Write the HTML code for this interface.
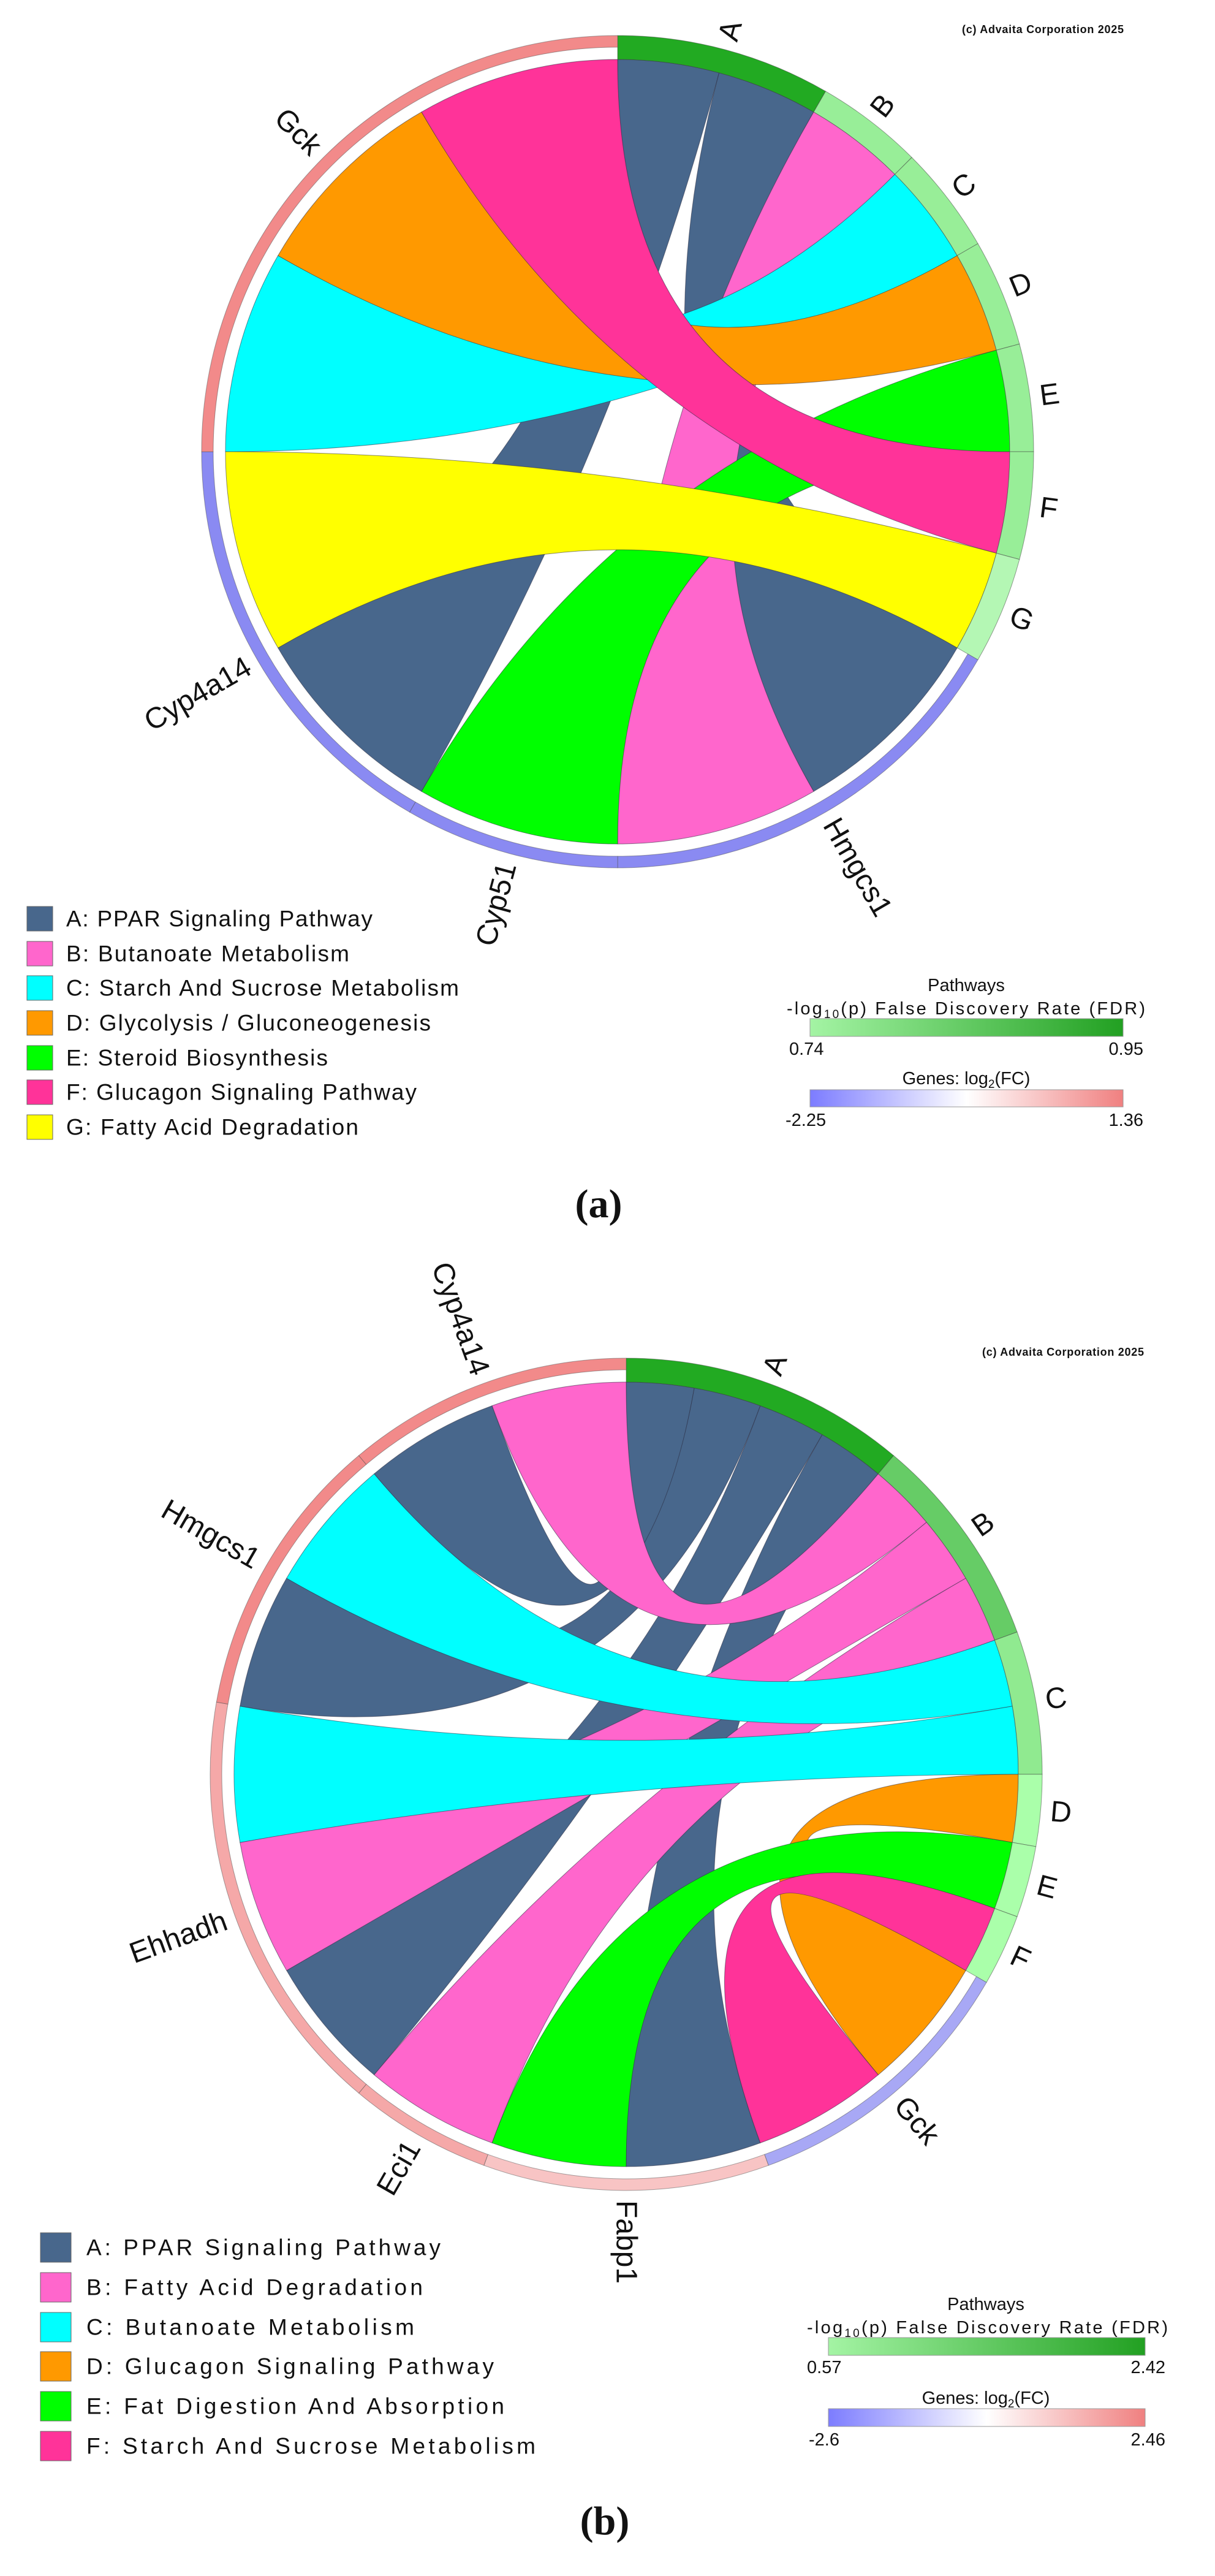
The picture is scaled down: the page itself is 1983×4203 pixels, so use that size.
<!DOCTYPE html>
<html><head><meta charset="utf-8"><style>
html,body{margin:0;padding:0;background:#fff;}
svg{display:block;}
text{font-family:"Liberation Sans",sans-serif;fill:#111;}
.lab{font-size:48px;dominant-baseline:central;}
.leg{font-size:37px;dominant-baseline:central;}
.cb{font-size:29px;}
.cap{font-family:"Liberation Serif",serif;font-weight:bold;font-size:66px;}
.copy{font-size:18px;font-weight:bold;}
</style></head><body>
<svg id="s" width="1983" height="4203" viewBox="0 0 1983 4203" xmlns="http://www.w3.org/2000/svg">
<defs>
<linearGradient id="gg" x1="0" x2="1" y1="0" y2="0"><stop offset="0" stop-color="#a4f4a4"/><stop offset="1" stop-color="#22a022"/></linearGradient>
<linearGradient id="bg" x1="0" x2="1" y1="0" y2="0"><stop offset="0" stop-color="#7c7cff"/><stop offset="0.5" stop-color="#ffffff"/><stop offset="1" stop-color="#f08080"/></linearGradient>
</defs>
<g id="chartA"></g>
<g id="chartB"></g>

<!-- Chart A labels -->
<g transform="translate(1008,737)">
<text class="lab" transform="rotate(45)" x="-695" text-anchor="end">Gck</text>
<text class="lab" transform="rotate(330)" x="-695" text-anchor="end">Cyp4a14</text>
<text class="lab" transform="rotate(285)" x="-695" text-anchor="end">Cyp51</text>
<text class="lab" transform="rotate(60)" x="695" text-anchor="start">Hmgcs1</text>
<text class="lab" transform="rotate(-75)" x="695">A</text>
<text class="lab" transform="rotate(-52.5)" x="695">B</text>
<text class="lab" transform="rotate(-37.5)" x="695">C</text>
<text class="lab" transform="rotate(-22.5)" x="695">D</text>
<text class="lab" transform="rotate(-7.5)" x="695">E</text>
<text class="lab" transform="rotate(7.5)" x="695">F</text>
<text class="lab" transform="rotate(22.5)" x="695">G</text>
</g>
<text class="copy" x="1570" y="54" textLength="264">(c) Advaita Corporation 2025</text>

<!-- Legend A -->
<g>
<rect x="44" y="1479" width="42" height="40" fill="#48678c" stroke="#666"/>
<rect x="44" y="1536" width="42" height="40" fill="#ff66cc" stroke="#666"/>
<rect x="44" y="1592" width="42" height="40" fill="#00ffff" stroke="#666"/>
<rect x="44" y="1649" width="42" height="40" fill="#ff9900" stroke="#666"/>
<rect x="44" y="1706" width="42" height="40" fill="#00ff00" stroke="#666"/>
<rect x="44" y="1762" width="42" height="40" fill="#ff3399" stroke="#666"/>
<rect x="44" y="1819" width="42" height="40" fill="#ffff00" stroke="#666"/>
<text class="leg" x="108" y="1499" textLength="500">A: PPAR Signaling Pathway</text>
<text class="leg" x="108" y="1556" textLength="462">B: Butanoate Metabolism</text>
<text class="leg" x="108" y="1612" textLength="641">C: Starch And Sucrose Metabolism</text>
<text class="leg" x="108" y="1669" textLength="595">D: Glycolysis / Gluconeogenesis</text>
<text class="leg" x="108" y="1726" textLength="427">E: Steroid Biosynthesis</text>
<text class="leg" x="108" y="1782" textLength="572">F: Glucagon Signaling Pathway</text>
<text class="leg" x="108" y="1839" textLength="477">G: Fatty Acid Degradation</text>
</g>
<!-- Colorbars A -->
<text class="cb" x="1577" y="1617" text-anchor="middle">Pathways</text>
<text class="cb" x="1284" y="1655" textLength="585">-log<tspan font-size="19" dy="6">10</tspan><tspan dy="-6">(p) False Discovery Rate (FDR)</tspan></text>
<rect x="1322" y="1662" width="511" height="29" fill="url(#gg)" stroke="#999" stroke-width="1"/>
<text class="cb" x="1288" y="1721">0.74</text>
<text class="cb" x="1866" y="1721" text-anchor="end">0.95</text>
<text class="cb" x="1577" y="1769" text-anchor="middle">Genes: log<tspan font-size="19" dy="6">2</tspan><tspan dy="-6">(FC)</tspan></text>
<rect x="1322" y="1778" width="511" height="28" fill="url(#bg)" stroke="#999" stroke-width="1"/>
<text class="cb" x="1282" y="1837">-2.25</text>
<text class="cb" x="1866" y="1837" text-anchor="end">1.36</text>
<text class="cap" x="977" y="1986" text-anchor="middle">(a)</text>

<!-- Chart B labels -->
<g transform="translate(1022,2895)">
<text class="lab" transform="rotate(70)" x="-695" text-anchor="end">Cyp4a14</text>
<text class="lab" transform="rotate(30)" x="-695" text-anchor="end">Hmgcs1</text>
<text class="lab" transform="rotate(-20)" x="-695" text-anchor="end">Ehhadh</text>
<text class="lab" transform="rotate(-60)" x="-695" text-anchor="end">Eci1</text>
<text class="lab" transform="rotate(90)" x="695">Fabp1</text>
<text class="lab" transform="rotate(50)" x="695">Gck</text>
<text class="lab" transform="rotate(-70)" x="695">A</text>
<text class="lab" transform="rotate(-35)" x="695">B</text>
<text class="lab" transform="rotate(-10)" x="695">C</text>
<text class="lab" transform="rotate(5)" x="695">D</text>
<text class="lab" transform="rotate(15)" x="695">E</text>
<text class="lab" transform="rotate(25)" x="695">F</text>
</g>
<text class="copy" x="1603" y="2212" textLength="264">(c) Advaita Corporation 2025</text>

<!-- Legend B -->
<g>
<rect x="66" y="3643" width="50" height="48" fill="#48678c" stroke="#666"/>
<rect x="66" y="3708" width="50" height="48" fill="#ff66cc" stroke="#666"/>
<rect x="66" y="3773" width="50" height="48" fill="#00ffff" stroke="#666"/>
<rect x="66" y="3837" width="50" height="48" fill="#ff9900" stroke="#666"/>
<rect x="66" y="3902" width="50" height="48" fill="#00ff00" stroke="#666"/>
<rect x="66" y="3967" width="50" height="48" fill="#ff3399" stroke="#666"/>
<text class="leg" x="141" y="3667" textLength="578">A: PPAR Signaling Pathway</text>
<text class="leg" x="141" y="3732" textLength="549">B: Fatty Acid Degradation</text>
<text class="leg" x="141" y="3797" textLength="535">C: Butanoate Metabolism</text>
<text class="leg" x="141" y="3861" textLength="665">D: Glucagon Signaling Pathway</text>
<text class="leg" x="141" y="3926" textLength="682">E: Fat Digestion And Absorption</text>
<text class="leg" x="141" y="3991" textLength="733">F: Starch And Sucrose Metabolism</text>
</g>
<!-- Colorbars B -->
<text class="cb" x="1609" y="3769" text-anchor="middle">Pathways</text>
<text class="cb" x="1317" y="3807" textLength="589">-log<tspan font-size="19" dy="6">10</tspan><tspan dy="-6">(p) False Discovery Rate (FDR)</tspan></text>
<rect x="1352" y="3814" width="517" height="29" fill="url(#gg)" stroke="#999" stroke-width="1"/>
<text class="cb" x="1317" y="3872">0.57</text>
<text class="cb" x="1902" y="3872" text-anchor="end">2.42</text>
<text class="cb" x="1609" y="3922" text-anchor="middle">Genes: log<tspan font-size="19" dy="6">2</tspan><tspan dy="-6">(FC)</tspan></text>
<rect x="1352" y="3930" width="517" height="29" fill="url(#bg)" stroke="#999" stroke-width="1"/>
<text class="cb" x="1320" y="3990">-2.6</text>
<text class="cb" x="1902" y="3990" text-anchor="end">2.46</text>
<text class="cap" x="987" y="4135" text-anchor="middle">(b)</text>
</svg>
<script>
(function(){
var NS="http://www.w3.org/2000/svg";
var R=679,RG=660,RC=640;
var COL={A:"#48678c",B:"#ff66cc",C:"#00ffff",D:"#ff9900",E:"#00ff00",F:"#ff3399",G:"#ffff00"};
function p(cx,cy,r,a){var t=a*Math.PI/180;return (cx+r*Math.sin(t)).toFixed(2)+" "+(cy-r*Math.cos(t)).toFixed(2);}
function add(g,d,fill,stroke,sw){var e=document.createElementNS(NS,"path");e.setAttribute("d",d);e.setAttribute("fill",fill);e.setAttribute("stroke",stroke||"none");if(sw)e.setAttribute("stroke-width",sw);g.appendChild(e);}
function sector(cx,cy,r0,r1,a0,a1){var lg=(a1-a0)>180?1:0;
 return "M"+p(cx,cy,r1,a0)+" A"+r1+" "+r1+" 0 "+lg+" 1 "+p(cx,cy,r1,a1)+" L"+p(cx,cy,r0,a1)+" A"+r0+" "+r0+" 0 "+lg+" 0 "+p(cx,cy,r0,a0)+" Z";}
function ribbon(cx,cy,a0,a1,b0,b1){var r=RC;
 return "M"+p(cx,cy,r,a0)+" A"+r+" "+r+" 0 0 1 "+p(cx,cy,r,a1)+" Q"+cx+" "+cy+" "+p(cx,cy,r,b0)+" A"+r+" "+r+" 0 0 1 "+p(cx,cy,r,b1)+" Q"+cx+" "+cy+" "+p(cx,cy,r,a0)+" Z";}
function chart(id,cx,cy,paths,genes,links){
 var g=document.getElementById(id);
 links.forEach(function(l){add(g,ribbon(cx,cy,l[1],l[2],l[3],l[4]),COL[l[0]],"rgba(40,40,60,0.55)",1);});
 paths.forEach(function(s){add(g,sector(cx,cy,RC,R,s[0],s[1]),s[2],"rgba(60,60,60,0.5)",1);});
 genes.forEach(function(s){add(g,sector(cx,cy,RG,R,s[0],s[1]),s[2],"rgba(80,80,80,0.5)",1);});
}
chart("chartA",1008,737,
 [[0,30,"#22aa22"],[30,45,"#98ee98"],[45,60,"#98ee98"],[60,75,"#98ee98"],[75,90,"#98ee98"],[90,105,"#98ee98"],[105,120,"#b4f7b4"]],
 [[120,180,"#8a8af2"],[180,210,"#8a8af2"],[210,270,"#8a8af2"],[270,360,"#f28a8a"]],
 [["A",0,15,210,240],["A",15,30,120,150],["B",30,45,150,180],["C",45,60,270,300],["D",60,75,300,330],["E",75,90,180,210],["F",90,105,330,360],["G",105,120,240,270]]);
chart("chartB",1022,2895,
 [[0,40,"#22aa22"],[40,70,"#66cc66"],[70,90,"#90ea90"],[90,100,"#aaffaa"],[100,110,"#aaffaa"],[110,120,"#aaffaa"]],
 [[120,160,"#a8a8f5"],[160,200,"#f8c4c4"],[200,220,"#f5a8a8"],[220,280,"#f5a8a8"],[280,320,"#f28a8a"],[320,360,"#f28a8a"]],
 [["A",0,10,320,340],["A",10,20,280,300],["A",20,30,220,240],["A",30,40,160,180],
  ["B",40,50,340,360],["B",50,60,240,260],["B",60,70,200,220],
  ["C",70,80,300,320],["C",80,90,260,280],
  ["D",90,100,120,140],["E",100,110,180,200],["F",110,120,140,160]]);
})();
</script>
</body></html>
